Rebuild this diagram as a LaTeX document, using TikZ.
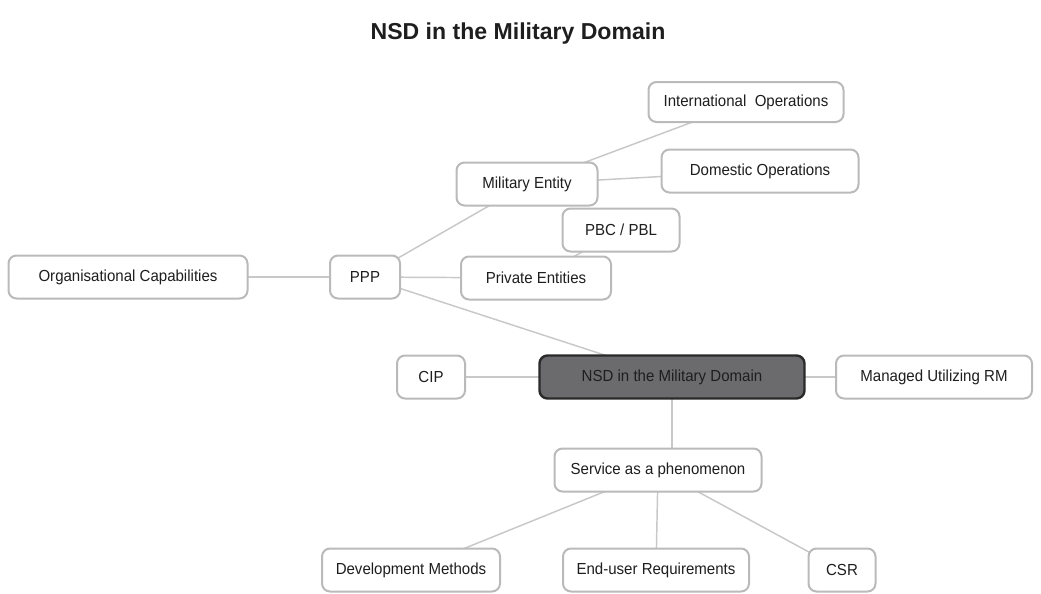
\documentclass[tikz,border=0pt]{standalone}
\usepackage{fontspec}
\setmainfont{Liberation Sans}
\newfontfamily\boxfont[FakeStretch=0.94]{Liberation Sans}
\usetikzlibrary{backgrounds}
\definecolor{boxgray}{HTML}{BABABA}
\definecolor{linegray}{HTML}{C8C8C8}
\definecolor{textc}{HTML}{1E1E1E}
\definecolor{centerfill}{HTML}{6B6B6D}
\definecolor{centerdraw}{HTML}{2A2A2A}
\begin{document}
\begin{tikzpicture}[x=0.75pt,y=-0.75pt,
  box/.style={draw=boxgray, line width=1.5pt, rounded corners=6pt, fill=white,
    text=textc, font=\boxfont\fontsize{12}{14}\selectfont, inner sep=0pt,
    minimum height={43*0.75pt}},
  centerbox/.style={box, draw=centerdraw, fill=centerfill, line width=1.8pt},
  link/.style={draw=linegray, line width=1.1pt}]
\useasboundingbox (0,0) rectangle (1041,593);
\node[font=\fontsize{17.3}{20}\selectfont\bfseries, text=textc] (title) at (518,34) {NSD in the Military Domain};
\node[box, minimum width={195*0.75pt}, minimum height={40*0.75pt}] (intl) at (746,102) {International\ \ Operations};
\node[box, minimum width={197*0.75pt}] (dom) at (760,171) {Domestic Operations};
\node[box, minimum width={141*0.75pt}] (mil) at (527,184) {Military Entity};
\node[box, minimum width={117*0.75pt}] (pbc) at (621,230) {PBC / PBL};
\node[box, minimum width={239*0.75pt}] (org) at (128,277) {Organisational Capabilities};
\node[box, minimum width={70*0.75pt}] (ppp) at (365,277) {PPP};
\node[box, minimum width={150*0.75pt}] (priv) at (536,278) {Private Entities};
\node[box, minimum width={68*0.75pt}] (cip) at (431,377) {CIP};
\node[centerbox, minimum width={265*0.75pt}] (nsd) at (672,377) {NSD in the Military Domain};
\node[box, minimum width={196*0.75pt}] (rm) at (934,377) {Managed Utilizing RM};
\node[box, minimum width={207*0.75pt}] (serv) at (658,470) {Service as a phenomenon};
\node[box, minimum width={178*0.75pt}] (dev) at (411,570) {Development Methods};
\node[box, minimum width={186*0.75pt}] (end) at (656,570) {End-user Requirements};
\node[box, minimum width={67*0.75pt}] (csr) at (842,570) {CSR};
\begin{scope}[on background layer]
\path[link] (org.center) -- (ppp.center);
\path[link] (ppp.center) -- (mil.center);
\path[link] (ppp.center) -- (priv.center);
\path[link] (ppp.center) -- (nsd.center);
\path[link] (mil.center) -- (intl.center);
\path[link] (mil.center) -- (dom.center);
\path[link] (pbc.center) -- (priv.center);
\path[link] (cip.center) -- (nsd.center);
\path[link] (nsd.center) -- (rm.center);
\path[link] (nsd.center) -- (nsd.center |- serv.center);
\path[link] (serv.center) -- (dev.center);
\path[link] (serv.center) -- (end.center);
\path[link] (serv.center) -- (csr.center);
\end{scope}
\end{tikzpicture}
\end{document}
